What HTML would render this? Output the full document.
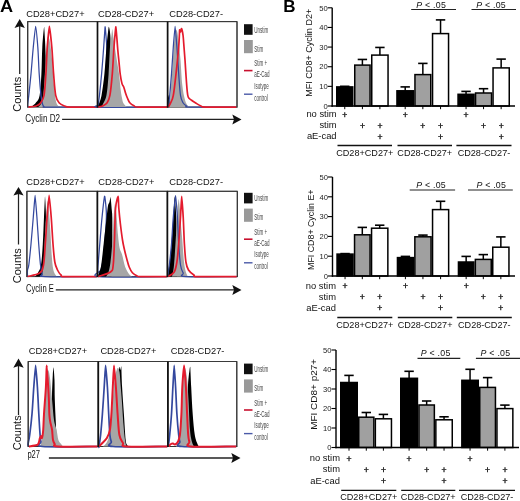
<!DOCTYPE html>
<html><head><meta charset="utf-8"><style>
html,body{margin:0;padding:0;background:#fff;}
svg{display:block;filter:blur(0.3px);}
text{font-family:"Liberation Sans", sans-serif;}
</style></head><body>
<svg width="520" height="501" viewBox="0 0 520 501">
<rect width="520" height="501" fill="#fff"/>
<text x="0" y="11.9" font-size="17" font-weight="bold" fill="#000" transform="translate(0,0) scale(1.07,1)">A</text>
<text x="283.2" y="11.9" font-size="17" font-weight="bold" fill="#000">B</text>
<rect x="27.70" y="21.60" width="69.80" height="85.50" fill="#fff" stroke="#333" stroke-width="1.0"/>
<path d="M30.00,107.10 C30.40,106.92 31.40,106.75 32.40,106.00 C33.40,105.25 34.80,104.37 36.00,102.60 C37.20,100.83 38.70,100.18 39.60,95.40 C40.50,90.62 40.95,81.97 41.40,73.90 C41.85,65.83 41.85,54.85 42.30,47.00 C42.75,39.15 43.94,27.21 44.10,26.80 C44.26,26.39 44.72,34.47 45.00,40.00 C45.28,45.53 45.55,53.33 45.80,60.00 C46.05,66.67 46.30,73.33 46.50,80.00 C46.70,86.67 46.83,95.48 47.00,100.00 C47.17,104.52 47.42,105.92 47.50,107.10 Z" fill="#000" stroke="none"/>
<path d="M38.00,107.10 C38.50,106.58 40.17,105.68 41.00,104.00 C41.83,102.32 42.42,101.00 43.00,97.00 C43.58,93.00 44.00,87.00 44.50,80.00 C45.00,73.00 45.53,61.67 46.00,55.00 C46.47,48.33 46.93,43.17 47.30,40.00 C47.67,36.83 48.07,36.00 48.20,36.00 C48.33,36.00 49.03,37.67 49.50,40.00 C49.97,42.33 50.57,46.67 51.00,50.00 C51.43,53.33 51.60,54.17 52.10,60.00 C52.60,65.83 53.40,78.33 54.00,85.00 C54.60,91.67 55.12,96.67 55.70,100.00 C56.28,103.33 56.78,103.82 57.50,105.00 C58.22,106.18 59.58,106.75 60.00,107.10 Z" fill="#a6a6a6" stroke="none"/>
<path d="M28.30,107.10 C28.18,106.75 27.52,106.95 27.60,105.00 C27.68,103.05 28.23,100.58 28.80,95.40 C29.37,90.22 30.25,81.97 31.00,73.90 C31.75,65.83 32.53,54.93 33.30,47.00 C34.07,39.07 35.34,26.30 35.60,26.30 C35.86,26.30 37.20,39.07 37.80,47.00 C38.40,54.93 38.67,65.83 39.20,73.90 C39.73,81.97 40.45,90.38 41.00,95.40 C41.55,100.42 42.00,102.15 42.50,104.00 C43.00,105.85 43.08,105.98 44.00,106.50 C44.92,107.02 39.18,107.00 48.00,107.10 C56.82,107.20 88.75,107.10 96.90,107.10" fill="none" stroke="#34489e" stroke-width="1.25" stroke-linejoin="round"/>
<path d="M28.30,107.10 C29.58,106.92 33.97,106.68 36.00,106.00 C38.03,105.32 39.17,104.77 40.50,103.00 C41.83,101.23 43.10,100.25 44.00,95.40 C44.90,90.55 45.35,81.97 45.90,73.90 C46.45,65.83 46.72,54.93 47.30,47.00 C47.88,39.07 49.14,26.30 49.40,26.30 C49.66,26.30 51.10,39.07 51.80,47.00 C52.50,54.93 52.95,65.83 53.60,73.90 C54.25,81.97 54.75,90.55 55.70,95.40 C56.65,100.25 57.80,101.23 59.30,103.00 C60.80,104.77 62.92,105.32 64.70,106.00 C66.48,106.68 64.63,106.92 70.00,107.10 C75.37,107.28 92.42,107.10 96.90,107.10" fill="none" stroke="#e41b2d" stroke-width="1.70" stroke-linejoin="round"/>
<path d="M27.70,21.60 H97.50" fill="none" stroke="#3a3a3a" stroke-width="1.0"/>
<path d="M27.70,107.60 V21.60" fill="none" stroke="#333" stroke-width="1.10"/>
<rect x="97.50" y="21.60" width="70.10" height="85.50" fill="#fff" stroke="#333" stroke-width="1.0"/>
<path d="M98.10,107.10 C98.12,106.75 97.97,107.02 98.20,105.00 C98.43,102.98 98.93,100.18 99.50,95.00 C100.07,89.82 100.90,81.90 101.60,73.90 C102.30,65.90 103.12,54.85 103.70,47.00 C104.28,39.15 104.95,27.21 105.10,26.80 C105.25,26.39 106.02,36.13 106.30,40.00 C106.58,43.87 106.88,44.35 106.80,50.00 C106.72,55.65 106.35,66.40 105.80,73.90 C105.25,81.40 104.30,89.98 103.50,95.00 C102.70,100.02 101.67,101.98 101.00,104.00 C100.33,106.02 88.50,106.58 99.50,107.10 C110.50,107.62 155.75,107.10 167.00,107.10" fill="none" stroke="#34489e" stroke-width="1.25" stroke-linejoin="round"/>
<path d="M98.00,107.10 C98.17,106.58 98.40,106.02 99.00,104.00 C99.60,101.98 100.70,100.02 101.60,95.00 C102.50,89.98 103.58,81.90 104.40,73.90 C105.22,65.90 105.78,54.85 106.50,47.00 C107.22,39.15 108.48,27.50 108.70,26.80 C108.92,26.10 109.92,29.47 110.30,35.00 C110.68,40.53 110.72,50.83 111.00,60.00 C111.28,69.17 111.67,82.15 112.00,90.00 C112.33,97.85 112.83,104.25 113.00,107.10 Z" fill="#000" stroke="none"/>
<path d="M101.00,107.10 C101.33,106.58 102.08,106.02 103.00,104.00 C103.92,101.98 105.57,100.02 106.50,95.00 C107.43,89.98 108.02,81.90 108.60,73.90 C109.18,65.90 109.52,53.48 110.00,47.00 C110.48,40.52 111.12,38.00 111.50,35.00 C111.88,32.00 112.17,28.71 112.30,29.00 C112.43,29.29 113.18,35.67 113.80,40.00 C114.42,44.33 115.13,49.33 116.00,55.00 C116.87,60.67 118.20,68.03 119.00,74.00 C119.80,79.97 120.30,86.80 120.80,90.80 C121.30,94.80 121.60,96.00 122.00,98.00 C122.40,100.00 122.60,101.47 123.20,102.80 C123.80,104.13 124.97,105.28 125.60,106.00 C126.23,106.72 126.77,106.92 127.00,107.10 Z" fill="#a6a6a6" stroke="none"/>
<path d="M98.10,107.10 C98.82,106.92 100.93,106.68 102.40,106.00 C103.87,105.32 105.65,104.77 106.90,103.00 C108.15,101.23 109.00,100.25 109.90,95.40 C110.80,90.55 111.62,81.97 112.30,73.90 C112.98,65.83 113.40,54.85 114.00,47.00 C114.60,39.15 115.68,26.62 115.90,26.80 C116.12,26.98 117.28,44.13 117.80,50.00 C118.32,55.87 118.60,58.00 119.00,62.00 C119.40,66.00 119.70,70.40 120.20,74.00 C120.70,77.60 121.40,81.40 122.00,83.60 C122.60,85.80 123.20,85.60 123.80,87.20 C124.40,88.80 125.00,91.40 125.60,93.20 C126.20,95.00 126.70,96.40 127.40,98.00 C128.10,99.60 128.70,101.50 129.80,102.80 C130.90,104.10 132.50,105.08 134.00,105.80 C135.50,106.52 133.30,106.88 138.80,107.10 C144.30,107.32 162.30,107.10 167.00,107.10" fill="none" stroke="#e41b2d" stroke-width="1.70" stroke-linejoin="round"/>
<path d="M97.50,21.60 H167.60" fill="none" stroke="#3a3a3a" stroke-width="1.0"/>
<path d="M97.50,107.60 V21.60" fill="none" stroke="#111" stroke-width="1.70"/>
<rect x="167.60" y="21.60" width="69.40" height="85.50" fill="#fff" stroke="#333" stroke-width="1.0"/>
<path d="M168.00,107.10 C168.00,105.08 167.94,95.53 168.00,95.00 C168.06,94.47 168.67,96.50 169.00,98.00 C169.33,99.50 169.67,102.48 170.00,104.00 C170.33,105.52 170.83,106.58 171.00,107.10 Z" fill="#000" stroke="none"/>
<path d="M169.00,107.10 C169.17,105.92 169.50,105.35 170.00,100.00 C170.50,94.65 171.33,84.17 172.00,75.00 C172.67,65.83 173.33,52.50 174.00,45.00 C174.67,37.50 175.80,30.70 176.00,30.00 C176.20,29.30 177.00,30.50 177.50,33.00 C178.00,35.50 178.50,40.50 179.00,45.00 C179.50,49.50 179.95,53.33 180.50,60.00 C181.05,66.67 181.55,78.33 182.30,85.00 C183.05,91.67 184.05,96.50 185.00,100.00 C185.95,103.50 187.00,104.82 188.00,106.00 C189.00,107.18 190.50,106.92 191.00,107.10 Z" fill="#a6a6a6" stroke="none"/>
<path d="M168.20,107.10 C168.25,106.75 168.25,106.95 168.50,105.00 C168.75,103.05 169.20,100.58 169.70,95.40 C170.20,90.22 170.90,81.97 171.50,73.90 C172.10,65.83 172.70,54.93 173.30,47.00 C173.90,39.07 174.89,26.30 175.10,26.30 C175.31,26.30 176.30,39.07 176.90,47.00 C177.50,54.93 178.10,65.83 178.70,73.90 C179.30,81.97 179.75,90.55 180.50,95.40 C181.25,100.25 182.17,101.23 183.20,103.00 C184.23,104.77 185.57,105.32 186.70,106.00 C187.83,106.68 181.72,106.92 190.00,107.10 C198.28,107.28 228.67,107.10 236.40,107.10" fill="none" stroke="#34489e" stroke-width="1.25" stroke-linejoin="round"/>
<path d="M168.20,107.10 C168.60,106.42 169.75,104.95 170.60,103.00 C171.45,101.05 172.40,100.25 173.30,95.40 C174.20,90.55 175.10,81.97 176.00,73.90 C176.90,65.83 178.10,54.32 178.70,47.00 C179.30,39.68 179.50,30.88 179.60,30.00 C179.70,29.12 180.18,32.23 180.50,32.00 C180.82,31.77 181.35,28.43 181.50,28.60 C181.65,28.78 182.58,31.93 183.00,35.00 C183.42,38.07 183.67,42.83 184.00,47.00 C184.33,51.17 184.68,55.52 185.00,60.00 C185.32,64.48 185.55,68.90 185.90,73.90 C186.25,78.90 186.72,86.15 187.10,90.00 C187.48,93.85 187.52,95.33 188.20,97.00 C188.88,98.67 189.95,99.00 191.20,100.00 C192.45,101.00 194.07,102.00 195.70,103.00 C197.33,104.00 199.28,105.32 201.00,106.00 C202.72,106.68 200.10,106.92 206.00,107.10 C211.90,107.28 231.33,107.10 236.40,107.10" fill="none" stroke="#e41b2d" stroke-width="1.70" stroke-linejoin="round"/>
<path d="M167.60,21.60 H237.00" fill="none" stroke="#3a3a3a" stroke-width="1.0"/>
<path d="M167.60,107.60 V21.60" fill="none" stroke="#111" stroke-width="1.70"/>
<path d="M237.00,107.60 V21.60" fill="none" stroke="#333" stroke-width="1.0"/>
<text x="26.20" y="17.20" font-size="9.30" text-anchor="start" fill="#111" >CD28+CD27+</text>
<text x="98.00" y="17.20" font-size="9.30" text-anchor="start" fill="#111" >CD28-CD27+</text>
<text x="169.30" y="17.20" font-size="9.30" text-anchor="start" fill="#111" >CD28-CD27-</text>
<line x1="19.70" y1="25.90" x2="19.70" y2="74.00" stroke="#222" stroke-width="1.25"/>
<polygon points="19.70,18.90 14.50,27.90 19.70,26.20 24.90,27.90" fill="#111"/>
<text transform="translate(20.90,111.70) rotate(-90)" font-size="11" fill="#111">Counts</text>
<text x="25.30" y="122.40" font-size="10.00" fill="#111" transform="translate(25.30,0) scale(0.815,1) translate(-25.30,0)">Cyclin D2</text>
<line x1="62.10" y1="119.40" x2="235.50" y2="119.40" stroke="#222" stroke-width="1.3"/>
<polygon points="241.50,119.40 232.30,114.40 234.00,119.40 232.30,124.40" fill="#111"/>
<rect x="244" y="24.20" width="8.6" height="10.6" fill="#111"/>
<rect x="244" y="40.00" width="8.8" height="13.2" fill="#999"/>
<line x1="244" y1="70.60" x2="252.5" y2="70.60" stroke="#c8102e" stroke-width="1.6"/>
<line x1="244" y1="94.20" x2="252.5" y2="94.20" stroke="#4a5aa8" stroke-width="1.4"/>
<text x="254.2" y="32.80" font-size="8.6" fill="#444" transform="translate(254.2,0) scale(0.53,1) translate(-254.2,0)">Unstim</text>
<text x="254.2" y="51.60" font-size="8.6" fill="#444" transform="translate(254.2,0) scale(0.53,1) translate(-254.2,0)">Stim</text>
<text x="254.2" y="66.50" font-size="8.6" fill="#444" transform="translate(254.2,0) scale(0.53,1) translate(-254.2,0)">Stim +</text>
<text x="254.2" y="77.40" font-size="8.6" fill="#444" transform="translate(254.2,0) scale(0.53,1) translate(-254.2,0)">aE-Cad</text>
<text x="254.2" y="88.80" font-size="8.6" fill="#444" transform="translate(254.2,0) scale(0.53,1) translate(-254.2,0)">Isotype</text>
<text x="254.2" y="100.60" font-size="8.6" fill="#444" transform="translate(254.2,0) scale(0.53,1) translate(-254.2,0)">control</text>
<rect x="26.90" y="191.30" width="70.50" height="85.30" fill="#fff" stroke="#333" stroke-width="1.0"/>
<path d="M35.00,276.60 C35.47,276.00 36.80,274.93 37.80,273.00 C38.80,271.07 40.17,269.83 41.00,265.00 C41.83,260.17 42.30,252.00 42.80,244.00 C43.30,236.00 43.63,224.95 44.00,217.00 C44.37,209.05 44.90,196.71 45.00,196.30 C45.10,195.89 45.55,202.72 45.80,210.00 C46.05,217.28 46.30,230.83 46.50,240.00 C46.70,249.17 46.83,258.90 47.00,265.00 C47.17,271.10 47.42,274.67 47.50,276.60 Z" fill="#000" stroke="none"/>
<path d="M40.00,276.60 C40.42,275.83 41.83,275.60 42.50,272.00 C43.17,268.40 43.50,262.83 44.00,255.00 C44.50,247.17 44.92,234.03 45.50,225.00 C46.08,215.97 47.30,201.56 47.50,200.80 C47.70,200.04 48.53,207.13 49.00,212.00 C49.47,216.87 49.78,222.00 50.30,230.00 C50.82,238.00 51.48,253.00 52.10,260.00 C52.72,267.00 53.18,269.23 54.00,272.00 C54.82,274.77 56.50,275.83 57.00,276.60 Z" fill="#a6a6a6" stroke="none"/>
<path d="M27.50,276.60 C27.50,275.50 27.28,271.93 27.50,270.00 C27.72,268.07 28.22,269.33 28.80,265.00 C29.38,260.67 30.25,252.00 31.00,244.00 C31.75,236.00 32.62,225.10 33.30,217.00 C33.98,208.90 34.89,195.40 35.10,195.40 C35.31,195.40 36.30,208.90 36.90,217.00 C37.50,225.10 38.10,236.00 38.70,244.00 C39.30,252.00 39.90,260.00 40.50,265.00 C41.10,270.00 41.55,272.07 42.30,274.00 C43.05,275.93 35.92,276.17 45.00,276.60 C54.08,277.03 88.17,276.60 96.80,276.60" fill="none" stroke="#34489e" stroke-width="1.25" stroke-linejoin="round"/>
<path d="M27.50,276.60 C29.52,276.00 36.93,274.93 39.60,273.00 C42.27,271.07 42.55,269.83 43.50,265.00 C44.45,260.17 44.70,252.00 45.30,244.00 C45.90,236.00 46.47,225.10 47.10,217.00 C47.73,208.90 48.86,195.40 49.10,195.40 C49.34,195.40 50.55,208.90 51.20,217.00 C51.85,225.10 52.40,236.50 53.00,244.00 C53.60,251.50 54.05,257.67 54.80,262.00 C55.55,266.33 56.47,267.83 57.50,270.00 C58.53,272.17 59.75,273.90 61.00,275.00 C62.25,276.10 59.03,276.33 65.00,276.60 C70.97,276.87 91.50,276.60 96.80,276.60" fill="none" stroke="#e41b2d" stroke-width="1.70" stroke-linejoin="round"/>
<path d="M26.90,191.30 H97.40" fill="none" stroke="#3a3a3a" stroke-width="1.0"/>
<path d="M26.90,277.10 V191.30" fill="none" stroke="#333" stroke-width="1.10"/>
<rect x="97.40" y="191.30" width="70.00" height="85.30" fill="#fff" stroke="#333" stroke-width="1.0"/>
<path d="M98.00,276.60 C97.97,275.83 97.80,273.80 97.80,272.00 C97.80,270.20 97.67,270.55 98.00,265.80 C98.33,261.05 99.13,251.52 99.80,243.50 C100.47,235.48 101.20,225.57 102.00,217.70 C102.80,209.83 104.38,197.04 104.60,196.30 C104.82,195.56 105.50,201.55 105.80,205.00 C106.10,208.45 106.53,211.17 106.40,217.00 C106.27,222.83 105.57,232.83 105.00,240.00 C104.43,247.17 103.67,255.00 103.00,260.00 C102.33,265.00 101.58,267.23 101.00,270.00 C100.42,272.77 88.53,275.50 99.50,276.60 C110.47,277.70 155.58,276.60 166.80,276.60" fill="none" stroke="#34489e" stroke-width="1.25" stroke-linejoin="round"/>
<path d="M97.80,276.60 C97.93,276.17 98.05,275.80 98.60,274.00 C99.15,272.20 100.25,270.88 101.10,265.80 C101.95,260.72 102.78,251.52 103.70,243.50 C104.62,235.48 105.88,224.00 106.60,217.70 C107.32,211.40 107.52,208.32 108.00,205.70 C108.48,203.08 109.07,203.43 109.50,202.00 C109.93,200.57 110.47,196.63 110.60,197.10 C110.73,197.57 111.52,206.57 111.80,210.00 C112.08,213.43 112.20,212.12 112.30,217.70 C112.40,223.28 112.45,235.48 112.40,243.50 C112.35,251.52 112.15,260.28 112.00,265.80 C111.85,271.32 111.58,274.80 111.50,276.60 Z" fill="#000" stroke="none"/>
<path d="M106.00,276.60 C106.42,275.83 107.75,274.43 108.50,272.00 C109.25,269.57 109.83,267.33 110.50,262.00 C111.17,256.67 111.95,247.83 112.50,240.00 C113.05,232.17 113.38,221.08 113.80,215.00 C114.22,208.92 114.84,203.50 115.00,203.50 C115.16,203.50 116.00,209.75 116.50,215.00 C117.00,220.25 117.48,229.50 118.00,235.00 C118.52,240.50 118.93,244.78 119.60,248.00 C120.27,251.22 121.07,251.13 122.00,254.30 C122.93,257.47 124.00,263.67 125.20,267.00 C126.40,270.33 128.07,272.70 129.20,274.30 C130.33,275.90 131.53,276.22 132.00,276.60 Z" fill="#a6a6a6" stroke="none"/>
<path d="M98.00,276.60 C100.08,275.83 107.97,273.93 110.50,272.00 C113.03,270.07 112.53,270.33 113.20,265.00 C113.87,259.67 114.10,249.50 114.50,240.00 C114.90,230.50 114.98,215.28 115.60,208.00 C116.22,200.72 118.01,196.30 118.20,196.30 C118.39,196.30 118.43,203.38 118.80,208.00 C119.17,212.62 119.78,218.67 120.40,224.00 C121.02,229.33 121.83,235.75 122.50,240.00 C123.17,244.25 123.68,246.33 124.40,249.50 C125.12,252.67 126.00,256.08 126.80,259.00 C127.60,261.92 128.27,264.72 129.20,267.00 C130.13,269.28 131.07,271.22 132.40,272.70 C133.73,274.18 135.77,275.25 137.20,275.90 C138.63,276.55 136.07,276.48 141.00,276.60 C145.93,276.72 162.50,276.60 166.80,276.60" fill="none" stroke="#e41b2d" stroke-width="1.70" stroke-linejoin="round"/>
<path d="M97.40,191.30 H167.40" fill="none" stroke="#3a3a3a" stroke-width="1.0"/>
<path d="M97.40,277.10 V191.30" fill="none" stroke="#111" stroke-width="1.70"/>
<rect x="167.40" y="191.30" width="69.90" height="85.30" fill="#fff" stroke="#333" stroke-width="1.0"/>
<path d="M168.00,276.60 C168.07,275.83 168.12,274.43 168.40,272.00 C168.68,269.57 169.18,266.67 169.70,262.00 C170.22,257.33 170.90,251.50 171.50,244.00 C172.10,236.50 172.77,224.95 173.30,217.00 C173.83,209.05 174.52,196.30 174.70,196.30 C174.88,196.30 175.93,209.05 176.30,217.00 C176.67,224.95 176.78,236.00 176.90,244.00 C177.02,252.00 176.98,259.57 177.00,265.00 C177.02,270.43 177.00,274.67 177.00,276.60 Z" fill="#000" stroke="none"/>
<path d="M172.00,276.60 C172.33,274.67 173.33,271.93 174.00,265.00 C174.67,258.07 175.42,244.17 176.00,235.00 C176.58,225.83 177.05,216.00 177.50,210.00 C177.95,204.00 178.55,199.00 178.70,199.00 C178.85,199.00 179.62,205.67 180.00,210.00 C180.38,214.33 180.62,220.00 181.00,225.00 C181.38,230.00 181.80,233.83 182.30,240.00 C182.80,246.17 183.40,256.67 184.00,262.00 C184.60,267.33 185.23,269.57 185.90,272.00 C186.57,274.43 187.65,275.83 188.00,276.60 Z" fill="#a6a6a6" stroke="none"/>
<path d="M168.00,276.60 C168.00,276.17 167.72,276.43 168.00,274.00 C168.28,271.57 169.12,267.00 169.70,262.00 C170.28,257.00 170.90,251.50 171.50,244.00 C172.10,236.50 172.62,225.05 173.30,217.00 C173.98,208.95 175.36,195.70 175.60,195.70 C175.84,195.70 176.88,208.95 177.40,217.00 C177.92,225.05 178.18,236.00 178.70,244.00 C179.22,252.00 179.75,260.17 180.50,265.00 C181.25,269.83 182.28,271.07 183.20,273.00 C184.12,274.93 177.08,276.00 186.00,276.60 C194.92,277.20 228.25,276.60 236.70,276.60" fill="none" stroke="#34489e" stroke-width="1.25" stroke-linejoin="round"/>
<path d="M168.00,276.60 C169.03,275.83 172.72,274.43 174.20,272.00 C175.68,269.57 176.15,266.67 176.90,262.00 C177.65,257.33 178.10,251.50 178.70,244.00 C179.30,236.50 180.00,224.95 180.50,217.00 C181.00,209.05 181.54,196.30 181.70,196.30 C181.86,196.30 182.75,209.05 183.20,217.00 C183.65,224.95 183.95,236.50 184.40,244.00 C184.85,251.50 185.22,257.67 185.90,262.00 C186.58,266.33 187.17,267.83 188.50,270.00 C189.83,272.17 192.32,273.90 193.90,275.00 C195.48,276.10 190.87,276.33 198.00,276.60 C205.13,276.87 230.25,276.60 236.70,276.60" fill="none" stroke="#e41b2d" stroke-width="1.70" stroke-linejoin="round"/>
<path d="M167.40,191.30 H237.30" fill="none" stroke="#3a3a3a" stroke-width="1.0"/>
<path d="M167.40,277.10 V191.30" fill="none" stroke="#111" stroke-width="1.70"/>
<path d="M237.30,277.10 V191.30" fill="none" stroke="#333" stroke-width="1.0"/>
<text x="26.30" y="185.10" font-size="9.30" text-anchor="start" fill="#111" >CD28+CD27+</text>
<text x="98.30" y="185.10" font-size="9.30" text-anchor="start" fill="#111" >CD28-CD27+</text>
<text x="169.30" y="185.10" font-size="9.30" text-anchor="start" fill="#111" >CD28-CD27-</text>
<line x1="18.50" y1="193.60" x2="18.50" y2="244.50" stroke="#222" stroke-width="1.25"/>
<polygon points="18.50,186.90 13.40,195.60 18.50,193.90 23.60,195.60" fill="#111"/>
<text transform="translate(20.90,283.20) rotate(-90)" font-size="11" fill="#111">Counts</text>
<text x="26.00" y="291.60" font-size="10.00" fill="#111" transform="translate(26.00,0) scale(0.760,1) translate(-26.00,0)">Cyclin E</text>
<line x1="55.80" y1="289.90" x2="235.50" y2="289.90" stroke="#222" stroke-width="1.3"/>
<polygon points="241.50,289.90 232.30,284.90 234.00,289.90 232.30,294.90" fill="#111"/>
<rect x="244" y="192.80" width="8.6" height="10.6" fill="#111"/>
<rect x="244" y="208.60" width="8.8" height="13.2" fill="#999"/>
<line x1="244" y1="239.20" x2="252.5" y2="239.20" stroke="#c8102e" stroke-width="1.6"/>
<line x1="244" y1="262.80" x2="252.5" y2="262.80" stroke="#4a5aa8" stroke-width="1.4"/>
<text x="254.2" y="201.40" font-size="8.6" fill="#444" transform="translate(254.2,0) scale(0.53,1) translate(-254.2,0)">Unstim</text>
<text x="254.2" y="220.20" font-size="8.6" fill="#444" transform="translate(254.2,0) scale(0.53,1) translate(-254.2,0)">Stim</text>
<text x="254.2" y="235.10" font-size="8.6" fill="#444" transform="translate(254.2,0) scale(0.53,1) translate(-254.2,0)">Stim +</text>
<text x="254.2" y="246.00" font-size="8.6" fill="#444" transform="translate(254.2,0) scale(0.53,1) translate(-254.2,0)">aE-Cad</text>
<text x="254.2" y="257.40" font-size="8.6" fill="#444" transform="translate(254.2,0) scale(0.53,1) translate(-254.2,0)">Isotype</text>
<text x="254.2" y="269.20" font-size="8.6" fill="#444" transform="translate(254.2,0) scale(0.53,1) translate(-254.2,0)">control</text>
<rect x="28.20" y="361.50" width="70.10" height="85.00" fill="#fff" stroke="#333" stroke-width="1.0"/>
<path d="M50.00,446.50 C50.17,442.08 50.67,428.58 51.00,420.00 C51.33,411.42 51.70,402.50 52.00,395.00 C52.30,387.50 52.53,379.63 52.80,375.00 C53.07,370.37 53.50,366.91 53.60,367.20 C53.70,367.49 54.30,374.53 54.50,380.00 C54.70,385.47 54.60,393.33 54.80,400.00 C55.00,406.67 55.40,413.33 55.70,420.00 C56.00,426.67 56.30,435.58 56.60,440.00 C56.90,444.42 57.35,445.42 57.50,446.50 Z" fill="#000" stroke="none"/>
<path d="M40.00,446.50 C40.33,445.42 41.47,442.75 42.00,440.00 C42.53,437.25 42.70,436.67 43.20,430.00 C43.70,423.33 44.45,408.33 45.00,400.00 C45.55,391.67 45.92,385.02 46.50,380.00 C47.08,374.98 48.30,370.02 48.50,369.90 C48.70,369.78 49.40,372.98 50.00,378.00 C50.60,383.02 51.43,393.00 52.10,400.00 C52.77,407.00 53.25,415.00 54.00,420.00 C54.75,425.00 55.87,426.67 56.60,430.00 C57.33,433.33 57.65,437.67 58.40,440.00 C59.15,442.33 60.33,442.92 61.10,444.00 C61.87,445.08 62.68,446.08 63.00,446.50 Z" fill="#a6a6a6" stroke="none"/>
<path d="M28.80,446.50 C28.67,446.25 28.07,445.75 28.00,445.00 C27.93,444.25 28.12,443.67 28.40,442.00 C28.68,440.33 29.10,439.67 29.70,435.00 C30.30,430.33 31.32,422.00 32.00,414.00 C32.68,406.00 33.20,395.10 33.80,387.00 C34.40,378.90 35.39,365.40 35.60,365.40 C35.81,365.40 36.87,378.90 37.40,387.00 C37.93,395.10 38.35,406.00 38.80,414.00 C39.25,422.00 39.73,430.33 40.10,435.00 C40.47,439.67 40.60,440.08 41.00,442.00 C41.40,443.92 33.05,445.75 42.50,446.50 C51.95,447.25 88.50,446.50 97.70,446.50" fill="none" stroke="#34489e" stroke-width="1.70" stroke-linejoin="round"/>
<path d="M28.80,446.50 C30.15,446.25 35.25,445.58 36.90,445.00 C38.55,444.42 38.20,444.17 38.70,443.00 C39.20,441.83 39.52,439.17 39.90,438.00 C40.28,436.83 40.65,436.00 41.00,436.00 C41.35,436.00 41.63,439.00 42.00,438.00 C42.37,437.00 42.87,434.00 43.20,430.00 C43.53,426.00 43.55,421.17 44.00,414.00 C44.45,406.83 45.45,395.10 45.90,387.00 C46.35,378.90 46.57,365.40 46.70,365.40 C46.83,365.40 47.83,381.23 48.20,387.00 C48.57,392.77 48.70,395.33 48.90,400.00 C49.10,404.67 49.17,411.33 49.40,415.00 C49.63,418.67 50.03,420.33 50.30,422.00 C50.57,423.67 50.70,423.67 51.00,425.00 C51.30,426.33 51.77,427.50 52.10,430.00 C52.43,432.50 52.55,437.67 53.00,440.00 C53.45,442.33 53.97,442.92 54.80,444.00 C55.63,445.08 50.85,446.08 58.00,446.50 C65.15,446.92 91.08,446.50 97.70,446.50" fill="none" stroke="#e41b2d" stroke-width="2.00" stroke-linejoin="round"/>
<path d="M28.20,361.50 H98.30" fill="none" stroke="#3a3a3a" stroke-width="1.0"/>
<path d="M28.20,447.00 V361.50" fill="none" stroke="#333" stroke-width="1.10"/>
<rect x="98.30" y="361.50" width="69.60" height="85.00" fill="#fff" stroke="#333" stroke-width="1.0"/>
<path d="M115.00,446.50 C115.17,442.08 115.58,429.42 116.00,420.00 C116.42,410.58 117.05,398.33 117.50,390.00 C117.95,381.67 118.37,373.80 118.70,370.00 C119.03,366.20 119.41,367.20 119.50,367.20 C119.59,367.20 120.00,370.12 120.30,370.00 C120.60,369.88 121.19,365.51 121.30,366.50 C121.41,367.49 121.67,379.08 122.10,387.00 C122.53,394.92 123.30,405.17 123.90,414.00 C124.50,422.83 125.15,434.83 125.70,440.00 C126.25,445.17 126.73,443.92 127.20,445.00 C127.67,446.08 128.28,446.25 128.50,446.50 Z" fill="#000" stroke="none"/>
<path d="M103.00,446.50 C103.67,445.75 105.83,444.42 107.00,442.00 C108.17,439.58 109.17,437.33 110.00,432.00 C110.83,426.67 111.25,418.67 112.00,410.00 C112.75,401.33 113.58,387.00 114.50,380.00 C115.42,373.00 117.21,368.47 117.50,368.00 C117.79,367.53 118.98,369.17 119.50,372.00 C120.02,374.83 120.22,380.33 120.60,385.00 C120.98,389.67 121.32,393.33 121.80,400.00 C122.28,406.67 122.97,418.33 123.50,425.00 C124.03,431.67 124.50,436.42 125.00,440.00 C125.50,443.58 126.25,445.42 126.50,446.50 Z" fill="#a6a6a6" stroke="none"/>
<path d="M98.90,446.50 C98.92,446.50 98.72,448.42 99.00,446.50 C99.28,444.58 100.03,440.42 100.60,435.00 C101.17,429.58 101.80,422.00 102.40,414.00 C103.00,406.00 103.67,395.10 104.20,387.00 C104.73,378.90 105.41,365.40 105.60,365.40 C105.79,365.40 106.88,378.90 107.40,387.00 C107.92,395.10 108.28,406.00 108.70,414.00 C109.12,422.00 109.45,430.33 109.90,435.00 C110.35,439.67 110.88,440.08 111.40,442.00 C111.92,443.92 103.68,445.75 113.00,446.50 C122.32,447.25 158.25,446.50 167.30,446.50" fill="none" stroke="#34489e" stroke-width="1.70" stroke-linejoin="round"/>
<path d="M98.90,446.50 C99.48,445.92 101.07,444.42 102.40,443.00 C103.73,441.58 105.65,440.17 106.90,438.00 C108.15,435.83 109.15,434.00 109.90,430.00 C110.65,426.00 110.92,421.17 111.40,414.00 C111.88,406.83 112.37,395.10 112.80,387.00 C113.23,378.90 113.82,365.40 114.00,365.40 C114.18,365.40 115.30,378.90 115.90,387.00 C116.50,395.10 117.02,406.00 117.60,414.00 C118.18,422.00 118.50,430.17 119.40,435.00 C120.30,439.83 121.80,441.08 123.00,443.00 C124.20,444.92 119.22,445.92 126.60,446.50 C133.98,447.08 160.52,446.50 167.30,446.50" fill="none" stroke="#e41b2d" stroke-width="2.00" stroke-linejoin="round"/>
<path d="M98.30,361.50 H167.90" fill="none" stroke="#3a3a3a" stroke-width="1.0"/>
<path d="M98.30,447.00 V361.50" fill="none" stroke="#111" stroke-width="1.70"/>
<rect x="167.90" y="361.50" width="68.90" height="85.00" fill="#fff" stroke="#333" stroke-width="1.0"/>
<path d="M183.00,446.50 C183.50,442.08 185.17,430.25 186.00,420.00 C186.83,409.75 187.42,393.33 188.00,385.00 C188.58,376.67 189.12,372.97 189.50,370.00 C189.88,367.03 190.20,366.21 190.30,367.20 C190.40,368.19 190.80,379.20 191.20,387.00 C191.60,394.80 192.10,406.00 192.70,414.00 C193.30,422.00 194.00,430.00 194.80,435.00 C195.60,440.00 196.80,442.08 197.50,444.00 C198.20,445.92 198.75,446.08 199.00,446.50 Z" fill="#000" stroke="none"/>
<path d="M176.00,446.50 C176.50,445.42 178.17,444.42 179.00,440.00 C179.83,435.58 180.33,429.17 181.00,420.00 C181.67,410.83 182.33,393.67 183.00,385.00 C183.67,376.33 184.77,368.41 185.00,368.00 C185.23,367.59 186.42,372.67 187.00,378.00 C187.58,383.33 188.00,391.33 188.50,400.00 C189.00,408.67 189.42,423.00 190.00,430.00 C190.58,437.00 191.33,439.25 192.00,442.00 C192.67,444.75 193.67,445.75 194.00,446.50 Z" fill="#a6a6a6" stroke="none"/>
<path d="M168.50,446.50 C168.50,446.25 168.30,446.92 168.50,445.00 C168.70,443.08 169.20,440.17 169.70,435.00 C170.20,429.83 170.97,422.00 171.50,414.00 C172.03,406.00 172.45,395.10 172.90,387.00 C173.35,378.90 174.04,365.40 174.20,365.40 C174.36,365.40 175.15,378.90 175.60,387.00 C176.05,395.10 176.38,406.00 176.90,414.00 C177.42,422.00 178.20,430.33 178.70,435.00 C179.20,439.67 179.35,440.08 179.90,442.00 C180.45,443.92 172.62,445.75 182.00,446.50 C191.38,447.25 227.17,446.50 236.20,446.50" fill="none" stroke="#34489e" stroke-width="1.70" stroke-linejoin="round"/>
<path d="M168.50,446.50 C168.92,446.08 170.25,444.50 171.00,444.00 C171.75,443.50 172.33,443.42 173.00,443.50 C173.67,443.58 174.20,444.75 175.00,444.50 C175.80,444.25 176.98,443.58 177.80,442.00 C178.62,440.42 179.30,439.67 179.90,435.00 C180.50,430.33 181.00,422.00 181.40,414.00 C181.80,406.00 181.85,395.10 182.30,387.00 C182.75,378.90 183.89,365.40 184.10,365.40 C184.31,365.40 185.40,378.90 185.90,387.00 C186.40,395.10 186.72,406.00 187.10,414.00 C187.48,422.00 187.82,430.33 188.20,435.00 C188.58,439.67 188.93,440.08 189.40,442.00 C189.87,443.92 183.20,445.75 191.00,446.50 C198.80,447.25 228.67,446.50 236.20,446.50" fill="none" stroke="#e41b2d" stroke-width="2.00" stroke-linejoin="round"/>
<path d="M167.90,361.50 H236.80" fill="none" stroke="#3a3a3a" stroke-width="1.0"/>
<path d="M167.90,447.00 V361.50" fill="none" stroke="#111" stroke-width="1.70"/>
<path d="M236.80,447.00 V361.50" fill="none" stroke="#333" stroke-width="1.0"/>
<text x="28.80" y="353.80" font-size="9.30" text-anchor="start" fill="#111" >CD28+CD27+</text>
<text x="100.40" y="353.80" font-size="9.30" text-anchor="start" fill="#111" >CD28-CD27+</text>
<text x="170.70" y="353.80" font-size="9.30" text-anchor="start" fill="#111" >CD28-CD27-</text>
<line x1="18.50" y1="365.70" x2="18.50" y2="415.00" stroke="#222" stroke-width="1.25"/>
<polygon points="18.50,358.40 13.30,367.70 18.50,366.00 23.70,367.70" fill="#111"/>
<text transform="translate(20.90,450.20) rotate(-90)" font-size="11" fill="#111">Counts</text>
<text x="27.40" y="458.30" font-size="10.00" fill="#111" transform="translate(27.40,0) scale(0.760,1) translate(-27.40,0)">p27</text>
<line x1="48.90" y1="458.00" x2="234.50" y2="458.00" stroke="#222" stroke-width="1.3"/>
<polygon points="240.50,458.00 231.30,453.00 233.00,458.00 231.30,463.00" fill="#111"/>
<rect x="244" y="363.60" width="8.6" height="10.6" fill="#111"/>
<rect x="244" y="379.40" width="8.8" height="13.2" fill="#999"/>
<line x1="244" y1="410.00" x2="252.5" y2="410.00" stroke="#c8102e" stroke-width="1.6"/>
<line x1="244" y1="433.60" x2="252.5" y2="433.60" stroke="#4a5aa8" stroke-width="1.4"/>
<text x="254.2" y="372.20" font-size="8.6" fill="#444" transform="translate(254.2,0) scale(0.53,1) translate(-254.2,0)">Unstim</text>
<text x="254.2" y="391.00" font-size="8.6" fill="#444" transform="translate(254.2,0) scale(0.53,1) translate(-254.2,0)">Stim</text>
<text x="254.2" y="405.90" font-size="8.6" fill="#444" transform="translate(254.2,0) scale(0.53,1) translate(-254.2,0)">Stim +</text>
<text x="254.2" y="416.80" font-size="8.6" fill="#444" transform="translate(254.2,0) scale(0.53,1) translate(-254.2,0)">aE-Cad</text>
<text x="254.2" y="428.20" font-size="8.6" fill="#444" transform="translate(254.2,0) scale(0.53,1) translate(-254.2,0)">Isotype</text>
<text x="254.2" y="440.00" font-size="8.6" fill="#444" transform="translate(254.2,0) scale(0.53,1) translate(-254.2,0)">control</text>
<line x1="344.75" y1="86.90" x2="344.75" y2="86.30" stroke="#000" stroke-width="1.5"/>
<line x1="340.05" y1="86.30" x2="349.45" y2="86.30" stroke="#000" stroke-width="1.6"/>
<rect x="336.75" y="86.90" width="16.00" height="19.10" fill="#000" stroke="#000" stroke-width="1.5"/>
<line x1="344.75" y1="106.00" x2="344.75" y2="109.20" stroke="#000" stroke-width="1"/>
<line x1="362.40" y1="65.10" x2="362.40" y2="59.45" stroke="#000" stroke-width="1.5"/>
<line x1="357.70" y1="59.45" x2="367.10" y2="59.45" stroke="#000" stroke-width="1.6"/>
<rect x="354.75" y="65.10" width="15.30" height="40.90" fill="#a0a0a0" stroke="#000" stroke-width="1.5"/>
<line x1="362.40" y1="106.00" x2="362.40" y2="109.20" stroke="#000" stroke-width="1"/>
<line x1="379.90" y1="55.10" x2="379.90" y2="47.45" stroke="#000" stroke-width="1.5"/>
<line x1="375.20" y1="47.45" x2="384.60" y2="47.45" stroke="#000" stroke-width="1.6"/>
<rect x="371.75" y="55.10" width="16.30" height="50.90" fill="#fff" stroke="#000" stroke-width="1.5"/>
<line x1="379.90" y1="106.00" x2="379.90" y2="109.20" stroke="#000" stroke-width="1"/>
<line x1="405.20" y1="90.80" x2="405.20" y2="86.90" stroke="#000" stroke-width="1.5"/>
<line x1="400.50" y1="86.90" x2="409.90" y2="86.90" stroke="#000" stroke-width="1.6"/>
<rect x="396.95" y="90.80" width="16.50" height="15.20" fill="#000" stroke="#000" stroke-width="1.5"/>
<line x1="405.20" y1="106.00" x2="405.20" y2="109.20" stroke="#000" stroke-width="1"/>
<line x1="422.85" y1="74.60" x2="422.85" y2="63.40" stroke="#000" stroke-width="1.5"/>
<line x1="418.15" y1="63.40" x2="427.55" y2="63.40" stroke="#000" stroke-width="1.6"/>
<rect x="414.95" y="74.60" width="15.80" height="31.40" fill="#a0a0a0" stroke="#000" stroke-width="1.5"/>
<line x1="422.85" y1="106.00" x2="422.85" y2="109.20" stroke="#000" stroke-width="1"/>
<line x1="440.55" y1="33.60" x2="440.55" y2="19.90" stroke="#000" stroke-width="1.5"/>
<line x1="435.85" y1="19.90" x2="445.25" y2="19.90" stroke="#000" stroke-width="1.6"/>
<rect x="432.55" y="33.60" width="16.00" height="72.40" fill="#fff" stroke="#000" stroke-width="1.5"/>
<line x1="440.55" y1="106.00" x2="440.55" y2="109.20" stroke="#000" stroke-width="1"/>
<line x1="466.05" y1="94.30" x2="466.05" y2="91.40" stroke="#000" stroke-width="1.5"/>
<line x1="461.35" y1="91.40" x2="470.75" y2="91.40" stroke="#000" stroke-width="1.6"/>
<rect x="458.05" y="94.30" width="16.00" height="11.70" fill="#000" stroke="#000" stroke-width="1.5"/>
<line x1="466.05" y1="106.00" x2="466.05" y2="109.20" stroke="#000" stroke-width="1"/>
<line x1="483.55" y1="93.00" x2="483.55" y2="88.70" stroke="#000" stroke-width="1.5"/>
<line x1="478.85" y1="88.70" x2="488.25" y2="88.70" stroke="#000" stroke-width="1.6"/>
<rect x="475.55" y="93.00" width="16.00" height="13.00" fill="#a0a0a0" stroke="#000" stroke-width="1.5"/>
<line x1="483.55" y1="106.00" x2="483.55" y2="109.20" stroke="#000" stroke-width="1"/>
<line x1="501.15" y1="67.90" x2="501.15" y2="59.10" stroke="#000" stroke-width="1.5"/>
<line x1="496.45" y1="59.10" x2="505.85" y2="59.10" stroke="#000" stroke-width="1.6"/>
<rect x="493.05" y="67.90" width="16.20" height="38.10" fill="#fff" stroke="#000" stroke-width="1.5"/>
<line x1="501.15" y1="106.00" x2="501.15" y2="109.20" stroke="#000" stroke-width="1"/>
<line x1="332.20" y1="7.80" x2="332.20" y2="106.70" stroke="#000" stroke-width="1.4"/>
<line x1="331.50" y1="106.00" x2="515.00" y2="106.00" stroke="#000" stroke-width="1.4"/>
<line x1="327.70" y1="106.00" x2="332.20" y2="106.00" stroke="#000" stroke-width="1.1"/>
<text x="327.70" y="108.70" font-size="7.60" text-anchor="end" fill="#222" >0</text>
<line x1="327.70" y1="86.36" x2="332.20" y2="86.36" stroke="#000" stroke-width="1.1"/>
<text x="327.70" y="89.06" font-size="7.60" text-anchor="end" fill="#222" >10</text>
<line x1="327.70" y1="66.72" x2="332.20" y2="66.72" stroke="#000" stroke-width="1.1"/>
<text x="327.70" y="69.42" font-size="7.60" text-anchor="end" fill="#222" >20</text>
<line x1="327.70" y1="47.08" x2="332.20" y2="47.08" stroke="#000" stroke-width="1.1"/>
<text x="327.70" y="49.78" font-size="7.60" text-anchor="end" fill="#222" >30</text>
<line x1="327.70" y1="27.44" x2="332.20" y2="27.44" stroke="#000" stroke-width="1.1"/>
<text x="327.70" y="30.14" font-size="7.60" text-anchor="end" fill="#222" >40</text>
<line x1="327.70" y1="7.80" x2="332.20" y2="7.80" stroke="#000" stroke-width="1.1"/>
<text x="327.70" y="10.50" font-size="7.60" text-anchor="end" fill="#222" >50</text>
<text transform="translate(312.20,96.80) rotate(-90)" font-size="9.30" fill="#111" textLength="88.10" lengthAdjust="spacingAndGlyphs">MFI CD8+ Cyclin D2+</text>
<text x="416.30" y="7.70" font-size="8.8" fill="#111" textLength="29.5" lengthAdjust="spacing"><tspan font-style="italic">P</tspan> &lt; .05</text>
<line x1="411.20" y1="9.50" x2="456.00" y2="9.50" stroke="#222" stroke-width="1.1"/>
<text x="476.20" y="7.70" font-size="8.8" fill="#111" textLength="29.5" lengthAdjust="spacing"><tspan font-style="italic">P</tspan> &lt; .05</text>
<line x1="471.50" y1="9.50" x2="516.00" y2="9.50" stroke="#222" stroke-width="1.1"/>
<text x="336.60" y="117.30" font-size="9.40" text-anchor="end" fill="#111" >no stim</text>
<text x="336.60" y="128.30" font-size="9.40" text-anchor="end" fill="#111" >stim</text>
<text x="336.60" y="139.40" font-size="9.40" text-anchor="end" fill="#111" >aE-cad</text>
<text x="344.75" y="117.50" font-size="8.60" text-anchor="middle" fill="#111" stroke="#111" stroke-width="0.35">+</text>
<text x="362.40" y="128.50" font-size="8.60" text-anchor="middle" fill="#111" stroke="#111" stroke-width="0.35">+</text>
<text x="379.90" y="128.50" font-size="8.60" text-anchor="middle" fill="#111" stroke="#111" stroke-width="0.35">+</text>
<text x="379.90" y="139.60" font-size="8.60" text-anchor="middle" fill="#111" stroke="#111" stroke-width="0.35">+</text>
<line x1="337.50" y1="145.50" x2="392.00" y2="145.50" stroke="#111" stroke-width="1.35"/>
<text x="364.75" y="156.30" font-size="9.10" text-anchor="middle" fill="#111" >CD28+CD27+</text>
<text x="405.20" y="117.50" font-size="8.60" text-anchor="middle" fill="#111" stroke="#111" stroke-width="0.35">+</text>
<text x="422.85" y="128.50" font-size="8.60" text-anchor="middle" fill="#111" stroke="#111" stroke-width="0.35">+</text>
<text x="440.55" y="128.50" font-size="8.60" text-anchor="middle" fill="#111" stroke="#111" stroke-width="0.35">+</text>
<text x="440.55" y="139.60" font-size="8.60" text-anchor="middle" fill="#111" stroke="#111" stroke-width="0.35">+</text>
<line x1="397.50" y1="145.50" x2="452.00" y2="145.50" stroke="#111" stroke-width="1.35"/>
<text x="424.75" y="156.30" font-size="9.10" text-anchor="middle" fill="#111" >CD28-CD27+</text>
<text x="466.05" y="117.50" font-size="8.60" text-anchor="middle" fill="#111" stroke="#111" stroke-width="0.35">+</text>
<text x="483.55" y="128.50" font-size="8.60" text-anchor="middle" fill="#111" stroke="#111" stroke-width="0.35">+</text>
<text x="501.15" y="128.50" font-size="8.60" text-anchor="middle" fill="#111" stroke="#111" stroke-width="0.35">+</text>
<text x="501.15" y="139.60" font-size="8.60" text-anchor="middle" fill="#111" stroke="#111" stroke-width="0.35">+</text>
<line x1="456.40" y1="145.50" x2="511.50" y2="145.50" stroke="#111" stroke-width="1.35"/>
<text x="483.95" y="156.30" font-size="9.10" text-anchor="middle" fill="#111" >CD28-CD27-</text>
<line x1="345.05" y1="254.10" x2="345.05" y2="253.60" stroke="#000" stroke-width="1.5"/>
<line x1="340.35" y1="253.60" x2="349.75" y2="253.60" stroke="#000" stroke-width="1.6"/>
<rect x="337.05" y="254.10" width="16.00" height="21.90" fill="#000" stroke="#000" stroke-width="1.5"/>
<line x1="345.05" y1="276.00" x2="345.05" y2="279.20" stroke="#000" stroke-width="1"/>
<line x1="362.30" y1="234.80" x2="362.30" y2="227.40" stroke="#000" stroke-width="1.5"/>
<line x1="357.60" y1="227.40" x2="367.00" y2="227.40" stroke="#000" stroke-width="1.6"/>
<rect x="354.55" y="234.80" width="15.50" height="41.20" fill="#a0a0a0" stroke="#000" stroke-width="1.5"/>
<line x1="362.30" y1="276.00" x2="362.30" y2="279.20" stroke="#000" stroke-width="1"/>
<line x1="379.70" y1="228.20" x2="379.70" y2="225.20" stroke="#000" stroke-width="1.5"/>
<line x1="375.00" y1="225.20" x2="384.40" y2="225.20" stroke="#000" stroke-width="1.6"/>
<rect x="371.55" y="228.20" width="16.30" height="47.80" fill="#fff" stroke="#000" stroke-width="1.5"/>
<line x1="379.70" y1="276.00" x2="379.70" y2="279.20" stroke="#000" stroke-width="1"/>
<line x1="405.40" y1="257.60" x2="405.40" y2="256.40" stroke="#000" stroke-width="1.5"/>
<line x1="400.70" y1="256.40" x2="410.10" y2="256.40" stroke="#000" stroke-width="1.6"/>
<rect x="397.45" y="257.60" width="15.90" height="18.40" fill="#000" stroke="#000" stroke-width="1.5"/>
<line x1="405.40" y1="276.00" x2="405.40" y2="279.20" stroke="#000" stroke-width="1"/>
<line x1="422.95" y1="236.80" x2="422.95" y2="235.10" stroke="#000" stroke-width="1.5"/>
<line x1="418.25" y1="235.10" x2="427.65" y2="235.10" stroke="#000" stroke-width="1.6"/>
<rect x="414.85" y="236.80" width="16.20" height="39.20" fill="#a0a0a0" stroke="#000" stroke-width="1.5"/>
<line x1="422.95" y1="276.00" x2="422.95" y2="279.20" stroke="#000" stroke-width="1"/>
<line x1="440.60" y1="209.60" x2="440.60" y2="201.30" stroke="#000" stroke-width="1.5"/>
<line x1="435.90" y1="201.30" x2="445.30" y2="201.30" stroke="#000" stroke-width="1.6"/>
<rect x="432.55" y="209.60" width="16.10" height="66.40" fill="#fff" stroke="#000" stroke-width="1.5"/>
<line x1="440.60" y1="276.00" x2="440.60" y2="279.20" stroke="#000" stroke-width="1"/>
<line x1="466.15" y1="262.00" x2="466.15" y2="256.40" stroke="#000" stroke-width="1.5"/>
<line x1="461.45" y1="256.40" x2="470.85" y2="256.40" stroke="#000" stroke-width="1.6"/>
<rect x="458.45" y="262.00" width="15.40" height="14.00" fill="#000" stroke="#000" stroke-width="1.5"/>
<line x1="466.15" y1="276.00" x2="466.15" y2="279.20" stroke="#000" stroke-width="1"/>
<line x1="483.30" y1="259.40" x2="483.30" y2="254.60" stroke="#000" stroke-width="1.5"/>
<line x1="478.60" y1="254.60" x2="488.00" y2="254.60" stroke="#000" stroke-width="1.6"/>
<rect x="475.35" y="259.40" width="15.90" height="16.60" fill="#a0a0a0" stroke="#000" stroke-width="1.5"/>
<line x1="483.30" y1="276.00" x2="483.30" y2="279.20" stroke="#000" stroke-width="1"/>
<line x1="500.85" y1="247.20" x2="500.85" y2="236.90" stroke="#000" stroke-width="1.5"/>
<line x1="496.15" y1="236.90" x2="505.55" y2="236.90" stroke="#000" stroke-width="1.6"/>
<rect x="492.75" y="247.20" width="16.20" height="28.80" fill="#fff" stroke="#000" stroke-width="1.5"/>
<line x1="500.85" y1="276.00" x2="500.85" y2="279.20" stroke="#000" stroke-width="1"/>
<line x1="332.50" y1="177.00" x2="332.50" y2="276.70" stroke="#000" stroke-width="1.4"/>
<line x1="331.80" y1="276.00" x2="515.00" y2="276.00" stroke="#000" stroke-width="1.4"/>
<line x1="328.00" y1="276.00" x2="332.50" y2="276.00" stroke="#000" stroke-width="1.1"/>
<text x="328.00" y="278.70" font-size="7.60" text-anchor="end" fill="#222" >0</text>
<line x1="328.00" y1="256.20" x2="332.50" y2="256.20" stroke="#000" stroke-width="1.1"/>
<text x="328.00" y="258.90" font-size="7.60" text-anchor="end" fill="#222" >10</text>
<line x1="328.00" y1="236.40" x2="332.50" y2="236.40" stroke="#000" stroke-width="1.1"/>
<text x="328.00" y="239.10" font-size="7.60" text-anchor="end" fill="#222" >20</text>
<line x1="328.00" y1="216.60" x2="332.50" y2="216.60" stroke="#000" stroke-width="1.1"/>
<text x="328.00" y="219.30" font-size="7.60" text-anchor="end" fill="#222" >30</text>
<line x1="328.00" y1="196.80" x2="332.50" y2="196.80" stroke="#000" stroke-width="1.1"/>
<text x="328.00" y="199.50" font-size="7.60" text-anchor="end" fill="#222" >40</text>
<line x1="328.00" y1="177.00" x2="332.50" y2="177.00" stroke="#000" stroke-width="1.1"/>
<text x="328.00" y="179.70" font-size="7.60" text-anchor="end" fill="#222" >50</text>
<text transform="translate(313.80,269.90) rotate(-90)" font-size="9.30" fill="#111" textLength="80.40" lengthAdjust="spacingAndGlyphs">MFI CD8+ Cyclin E+</text>
<text x="416.20" y="188.00" font-size="8.8" fill="#111" textLength="29.5" lengthAdjust="spacing"><tspan font-style="italic">P</tspan> &lt; .05</text>
<line x1="409.70" y1="190.00" x2="455.10" y2="190.00" stroke="#222" stroke-width="1.1"/>
<text x="476.40" y="188.00" font-size="8.8" fill="#111" textLength="29.5" lengthAdjust="spacing"><tspan font-style="italic">P</tspan> &lt; .05</text>
<line x1="468.00" y1="190.00" x2="512.80" y2="190.00" stroke="#222" stroke-width="1.1"/>
<text x="336.00" y="289.20" font-size="9.40" text-anchor="end" fill="#111" >no stim</text>
<text x="336.00" y="300.20" font-size="9.40" text-anchor="end" fill="#111" >stim</text>
<text x="336.00" y="311.20" font-size="9.40" text-anchor="end" fill="#111" >aE-cad</text>
<text x="345.05" y="289.40" font-size="8.60" text-anchor="middle" fill="#111" stroke="#111" stroke-width="0.35">+</text>
<text x="362.30" y="300.40" font-size="8.60" text-anchor="middle" fill="#111" stroke="#111" stroke-width="0.35">+</text>
<text x="379.70" y="300.40" font-size="8.60" text-anchor="middle" fill="#111" stroke="#111" stroke-width="0.35">+</text>
<text x="379.70" y="311.40" font-size="8.60" text-anchor="middle" fill="#111" stroke="#111" stroke-width="0.35">+</text>
<line x1="337.30" y1="317.50" x2="392.30" y2="317.50" stroke="#111" stroke-width="1.35"/>
<text x="364.80" y="328.20" font-size="9.10" text-anchor="middle" fill="#111" >CD28+CD27+</text>
<text x="405.40" y="289.40" font-size="8.60" text-anchor="middle" fill="#111" stroke="#111" stroke-width="0.35">+</text>
<text x="422.95" y="300.40" font-size="8.60" text-anchor="middle" fill="#111" stroke="#111" stroke-width="0.35">+</text>
<text x="440.60" y="300.40" font-size="8.60" text-anchor="middle" fill="#111" stroke="#111" stroke-width="0.35">+</text>
<text x="440.60" y="311.40" font-size="8.60" text-anchor="middle" fill="#111" stroke="#111" stroke-width="0.35">+</text>
<line x1="397.80" y1="317.50" x2="452.30" y2="317.50" stroke="#111" stroke-width="1.35"/>
<text x="425.05" y="328.20" font-size="9.10" text-anchor="middle" fill="#111" >CD28-CD27+</text>
<text x="466.15" y="289.40" font-size="8.60" text-anchor="middle" fill="#111" stroke="#111" stroke-width="0.35">+</text>
<text x="483.30" y="300.40" font-size="8.60" text-anchor="middle" fill="#111" stroke="#111" stroke-width="0.35">+</text>
<text x="500.85" y="300.40" font-size="8.60" text-anchor="middle" fill="#111" stroke="#111" stroke-width="0.35">+</text>
<text x="500.85" y="311.40" font-size="8.60" text-anchor="middle" fill="#111" stroke="#111" stroke-width="0.35">+</text>
<line x1="456.80" y1="317.50" x2="511.80" y2="317.50" stroke="#111" stroke-width="1.35"/>
<text x="484.30" y="328.20" font-size="9.10" text-anchor="middle" fill="#111" >CD28-CD27-</text>
<line x1="349.00" y1="382.50" x2="349.00" y2="375.40" stroke="#000" stroke-width="1.5"/>
<line x1="344.30" y1="375.40" x2="353.70" y2="375.40" stroke="#000" stroke-width="1.6"/>
<rect x="340.75" y="382.50" width="16.50" height="65.00" fill="#000" stroke="#000" stroke-width="1.5"/>
<line x1="349.00" y1="447.50" x2="349.00" y2="450.70" stroke="#000" stroke-width="1"/>
<line x1="366.30" y1="417.20" x2="366.30" y2="412.50" stroke="#000" stroke-width="1.5"/>
<line x1="361.60" y1="412.50" x2="371.00" y2="412.50" stroke="#000" stroke-width="1.6"/>
<rect x="358.75" y="417.20" width="15.10" height="30.30" fill="#a0a0a0" stroke="#000" stroke-width="1.5"/>
<line x1="366.30" y1="447.50" x2="366.30" y2="450.70" stroke="#000" stroke-width="1"/>
<line x1="383.40" y1="418.80" x2="383.40" y2="414.40" stroke="#000" stroke-width="1.5"/>
<line x1="378.70" y1="414.40" x2="388.10" y2="414.40" stroke="#000" stroke-width="1.6"/>
<rect x="375.35" y="418.80" width="16.10" height="28.70" fill="#fff" stroke="#000" stroke-width="1.5"/>
<line x1="383.40" y1="447.50" x2="383.40" y2="450.70" stroke="#000" stroke-width="1"/>
<line x1="409.10" y1="378.30" x2="409.10" y2="371.30" stroke="#000" stroke-width="1.5"/>
<line x1="404.40" y1="371.30" x2="413.80" y2="371.30" stroke="#000" stroke-width="1.6"/>
<rect x="400.75" y="378.30" width="16.70" height="69.20" fill="#000" stroke="#000" stroke-width="1.5"/>
<line x1="409.10" y1="447.50" x2="409.10" y2="450.70" stroke="#000" stroke-width="1"/>
<line x1="426.65" y1="405.00" x2="426.65" y2="401.00" stroke="#000" stroke-width="1.5"/>
<line x1="421.95" y1="401.00" x2="431.35" y2="401.00" stroke="#000" stroke-width="1.6"/>
<rect x="418.95" y="405.00" width="15.40" height="42.50" fill="#a0a0a0" stroke="#000" stroke-width="1.5"/>
<line x1="426.65" y1="447.50" x2="426.65" y2="450.70" stroke="#000" stroke-width="1"/>
<line x1="444.05" y1="419.80" x2="444.05" y2="416.80" stroke="#000" stroke-width="1.5"/>
<line x1="439.35" y1="416.80" x2="448.75" y2="416.80" stroke="#000" stroke-width="1.6"/>
<rect x="435.85" y="419.80" width="16.40" height="27.70" fill="#fff" stroke="#000" stroke-width="1.5"/>
<line x1="444.05" y1="447.50" x2="444.05" y2="450.70" stroke="#000" stroke-width="1"/>
<line x1="470.05" y1="380.30" x2="470.05" y2="369.30" stroke="#000" stroke-width="1.5"/>
<line x1="465.35" y1="369.30" x2="474.75" y2="369.30" stroke="#000" stroke-width="1.6"/>
<rect x="461.85" y="380.30" width="16.40" height="67.20" fill="#000" stroke="#000" stroke-width="1.5"/>
<line x1="470.05" y1="447.50" x2="470.05" y2="450.70" stroke="#000" stroke-width="1"/>
<line x1="487.60" y1="387.40" x2="487.60" y2="377.60" stroke="#000" stroke-width="1.5"/>
<line x1="482.90" y1="377.60" x2="492.30" y2="377.60" stroke="#000" stroke-width="1.6"/>
<rect x="479.75" y="387.40" width="15.70" height="60.10" fill="#a0a0a0" stroke="#000" stroke-width="1.5"/>
<line x1="487.60" y1="447.50" x2="487.60" y2="450.70" stroke="#000" stroke-width="1"/>
<line x1="504.90" y1="408.60" x2="504.90" y2="405.10" stroke="#000" stroke-width="1.5"/>
<line x1="500.20" y1="405.10" x2="509.60" y2="405.10" stroke="#000" stroke-width="1.6"/>
<rect x="496.95" y="408.60" width="15.90" height="38.90" fill="#fff" stroke="#000" stroke-width="1.5"/>
<line x1="504.90" y1="447.50" x2="504.90" y2="450.70" stroke="#000" stroke-width="1"/>
<line x1="336.00" y1="350.00" x2="336.00" y2="448.20" stroke="#000" stroke-width="1.4"/>
<line x1="335.30" y1="447.50" x2="519.00" y2="447.50" stroke="#000" stroke-width="1.4"/>
<line x1="331.50" y1="447.50" x2="336.00" y2="447.50" stroke="#000" stroke-width="1.1"/>
<text x="331.50" y="450.20" font-size="7.60" text-anchor="end" fill="#222" >0</text>
<line x1="331.50" y1="428.00" x2="336.00" y2="428.00" stroke="#000" stroke-width="1.1"/>
<text x="331.50" y="430.70" font-size="7.60" text-anchor="end" fill="#222" >10</text>
<line x1="331.50" y1="408.50" x2="336.00" y2="408.50" stroke="#000" stroke-width="1.1"/>
<text x="331.50" y="411.20" font-size="7.60" text-anchor="end" fill="#222" >20</text>
<line x1="331.50" y1="389.00" x2="336.00" y2="389.00" stroke="#000" stroke-width="1.1"/>
<text x="331.50" y="391.70" font-size="7.60" text-anchor="end" fill="#222" >30</text>
<line x1="331.50" y1="369.50" x2="336.00" y2="369.50" stroke="#000" stroke-width="1.1"/>
<text x="331.50" y="372.20" font-size="7.60" text-anchor="end" fill="#222" >40</text>
<line x1="331.50" y1="350.00" x2="336.00" y2="350.00" stroke="#000" stroke-width="1.1"/>
<text x="331.50" y="352.70" font-size="7.60" text-anchor="end" fill="#222" >50</text>
<text transform="translate(317.40,429.80) rotate(-90)" font-size="9.90" fill="#111" textLength="70.90" lengthAdjust="spacingAndGlyphs">MFI CD8+ p27+</text>
<text x="420.80" y="356.10" font-size="8.8" fill="#111" textLength="29.5" lengthAdjust="spacing"><tspan font-style="italic">P</tspan> &lt; .05</text>
<line x1="417.50" y1="358.40" x2="460.30" y2="358.40" stroke="#222" stroke-width="1.1"/>
<text x="480.60" y="356.10" font-size="8.8" fill="#111" textLength="29.5" lengthAdjust="spacing"><tspan font-style="italic">P</tspan> &lt; .05</text>
<line x1="475.90" y1="358.40" x2="521.00" y2="358.40" stroke="#222" stroke-width="1.1"/>
<text x="340.00" y="461.40" font-size="9.40" text-anchor="end" fill="#111" >no stim</text>
<text x="340.00" y="472.40" font-size="9.40" text-anchor="end" fill="#111" >stim</text>
<text x="340.00" y="483.60" font-size="9.40" text-anchor="end" fill="#111" >aE-cad</text>
<text x="349.00" y="461.60" font-size="8.60" text-anchor="middle" fill="#111" stroke="#111" stroke-width="0.35">+</text>
<text x="366.30" y="472.60" font-size="8.60" text-anchor="middle" fill="#111" stroke="#111" stroke-width="0.35">+</text>
<text x="383.40" y="472.60" font-size="8.60" text-anchor="middle" fill="#111" stroke="#111" stroke-width="0.35">+</text>
<text x="383.40" y="483.80" font-size="8.60" text-anchor="middle" fill="#111" stroke="#111" stroke-width="0.35">+</text>
<line x1="341.20" y1="490.30" x2="396.30" y2="490.30" stroke="#111" stroke-width="1.35"/>
<text x="368.75" y="500.40" font-size="9.10" text-anchor="middle" fill="#111" >CD28+CD27+</text>
<text x="409.10" y="461.60" font-size="8.60" text-anchor="middle" fill="#111" stroke="#111" stroke-width="0.35">+</text>
<text x="426.65" y="472.60" font-size="8.60" text-anchor="middle" fill="#111" stroke="#111" stroke-width="0.35">+</text>
<text x="444.05" y="472.60" font-size="8.60" text-anchor="middle" fill="#111" stroke="#111" stroke-width="0.35">+</text>
<text x="444.05" y="483.80" font-size="8.60" text-anchor="middle" fill="#111" stroke="#111" stroke-width="0.35">+</text>
<line x1="401.20" y1="490.30" x2="455.30" y2="490.30" stroke="#111" stroke-width="1.35"/>
<text x="428.25" y="500.40" font-size="9.10" text-anchor="middle" fill="#111" >CD28-CD27+</text>
<text x="470.05" y="461.60" font-size="8.60" text-anchor="middle" fill="#111" stroke="#111" stroke-width="0.35">+</text>
<text x="487.60" y="472.60" font-size="8.60" text-anchor="middle" fill="#111" stroke="#111" stroke-width="0.35">+</text>
<text x="504.90" y="472.60" font-size="8.60" text-anchor="middle" fill="#111" stroke="#111" stroke-width="0.35">+</text>
<text x="504.90" y="483.80" font-size="8.60" text-anchor="middle" fill="#111" stroke="#111" stroke-width="0.35">+</text>
<line x1="459.00" y1="490.30" x2="515.00" y2="490.30" stroke="#111" stroke-width="1.35"/>
<text x="487.00" y="500.40" font-size="9.10" text-anchor="middle" fill="#111" >CD28-CD27-</text>
</svg>
</body></html>
